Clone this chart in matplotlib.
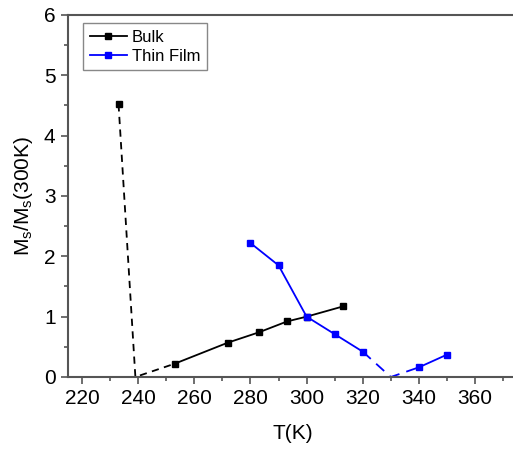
import matplotlib

matplotlib.use("Agg")
import matplotlib.pyplot as plt
from matplotlib.ticker import MultipleLocator

plt.rcParams["font.family"] = ["Liberation Sans", "DejaVu Sans"]
plt.rcParams["mathtext.fontset"] = "custom"
plt.rcParams["mathtext.rm"] = "Liberation Sans"

# Bulk: measured points (solid) plus the dashed drop toward zero
bulk_t = [253, 272, 283, 293, 300, 313]
bulk_m = [0.22, 0.57, 0.74, 0.92, 1.00, 1.17]
bulk_dash_t = [233, 239, 253]
bulk_dash_m = [4.52, 0.0, 0.22]
bulk_low_t = [233]
bulk_low_m = [4.52]

# Thin film: two solid branches joined by a dashed dip to zero
film_t1 = [280, 290, 300, 310, 320]
film_m1 = [2.22, 1.85, 1.00, 0.71, 0.42]
film_dash_t = [320, 330, 340]
film_dash_m = [0.42, 0.0, 0.16]
film_t2 = [340, 350]
film_m2 = [0.16, 0.37]

spine_col = "#555555"

fig = plt.figure(figsize=(5.13, 4.53), dpi=100)
ax = fig.add_axes([0.1326, 0.1678, 1.008 - 0.1326, 0.967 - 0.1678])

ax.plot(bulk_dash_t, bulk_dash_m, color="black", lw=1.3, ls=(0, (4, 3)))
ax.plot(film_dash_t, film_dash_m, color="blue", lw=1.3, ls=(0, (6, 4)))
ax.plot(bulk_low_t, bulk_low_m, color="black", ls="none", marker="s", ms=5)
ax.plot(bulk_t, bulk_m, color="black", lw=1.3, marker="s", ms=5, label="Bulk")
ax.plot(film_t1, film_m1, color="blue", lw=1.3, marker="s", ms=5, label="Thin Film")
ax.plot(film_t2, film_m2, color="blue", lw=1.3, marker="s", ms=5)

ax.set_xlim(215, 375)
ax.set_ylim(0, 6)
ax.xaxis.set_major_locator(MultipleLocator(20))
ax.xaxis.set_minor_locator(MultipleLocator(10))
ax.yaxis.set_major_locator(MultipleLocator(1))
ax.yaxis.set_minor_locator(MultipleLocator(0.5))
ax.tick_params(which="both", direction="out", color=spine_col, width=1.2, labelsize=15)
ax.tick_params(which="major", length=5, pad=4)
ax.tick_params(which="minor", length=3)
for side in ["left", "bottom", "top", "right"]:
    ax.spines[side].set_color(spine_col)
    ax.spines[side].set_linewidth(1.5)

ax.set_xlabel("T(K)", fontsize=15, labelpad=11)
ax.set_ylabel(r"M$_\mathregular{s}$/M$_\mathregular{s}$(300K)", fontsize=15, labelpad=6)

leg = ax.legend(loc="upper left", bbox_to_anchor=(0.034, 0.978), borderaxespad=0,
                fontsize=12, fancybox=False, edgecolor="#888888", framealpha=1,
                handlelength=2.2, handletextpad=0.3, borderpad=0.4, labelspacing=0.25)
leg.get_frame().set_linewidth(1.0)

fig.savefig("out.png", dpi=100)
